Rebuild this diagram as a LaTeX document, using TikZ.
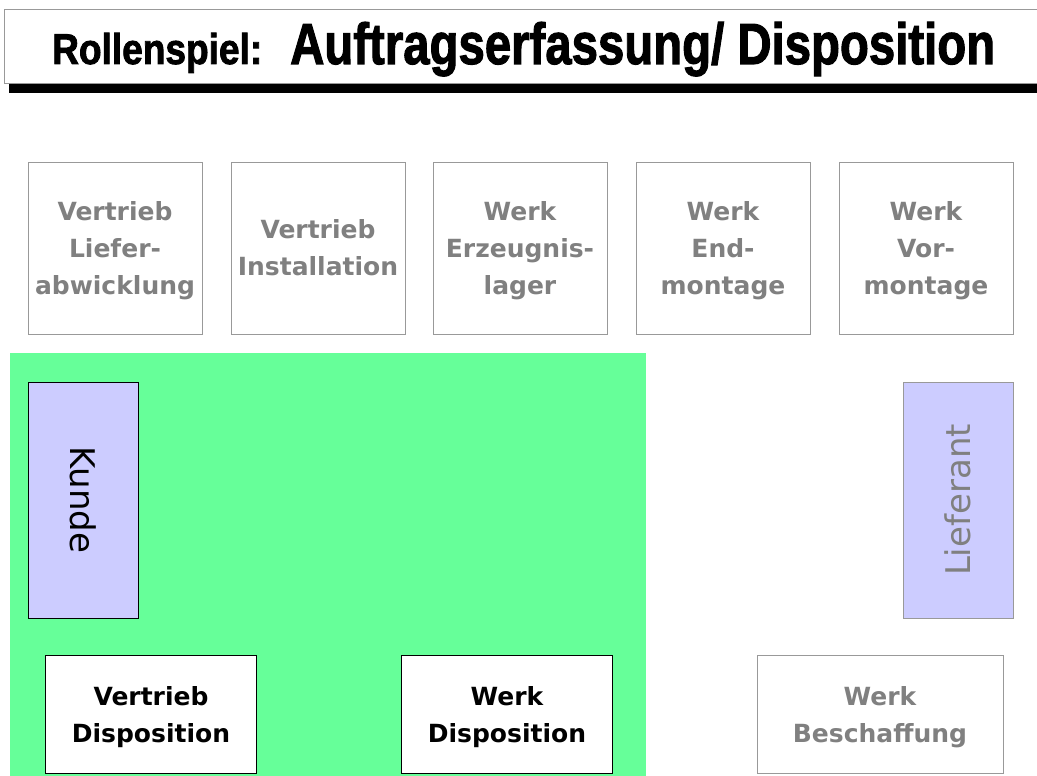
\documentclass[tikz,border=0pt]{standalone}
\usepackage{fontspec}
\setsansfont{DejaVu Sans}
\newfontfamily\titlefont[FakeBold=2]{Liberation Sans Bold}
\definecolor{boxgray}{HTML}{999999}
\definecolor{textgray}{HTML}{808080}
\definecolor{areagreen}{HTML}{66FF99}
\definecolor{rolleblau}{HTML}{CCCCFF}
\begin{document}
\begin{tikzpicture}[x=1pt, y=-1pt,
    rolle/.style={draw, line width=1pt, fill=white, align=center, inner sep=0pt,
      text depth=0pt, font=\sffamily\bfseries\fontsize{25}{37}\selectfont},
    grau/.style={rolle, draw=boxgray, text=textgray},
    oben/.style={grau, minimum width=174pt, minimum height=172pt},
    unten/.style={rolle, minimum width=211pt, minimum height=118pt},
    seite/.style={draw, line width=1pt, fill=rolleblau, inner sep=0pt,
      minimum width=236pt, minimum height=110pt,
      font=\sffamily\fontsize{34}{34}\selectfont}]

    \useasboundingbox (0,0) rectangle (1037,776);

    % === Titel ===
    \fill[black] (9,84) rectangle (1045,93);
    \draw[boxgray, fill=white, line width=1pt] (4,10) rectangle (1045,84);
    \node[anchor=base west, inner sep=0pt] (rollen) at (52,64)
        {\resizebox{210pt}{\height}{\titlefont\fontsize{43}{43}\selectfont Rollenspiel:}};
    \node[anchor=base west, inner sep=0pt] (titel) at (290,64)
        {\resizebox{705pt}{\height}{\titlefont\fontsize{58}{58}\selectfont Auftragserfassung/ Disposition}};

    % === obere Reihe ===
    \node[oben] (lieferabw) at (115,248) {Vertrieb\\Liefer-\\abwicklung};
    \node[oben] (install)   at (318,248) {Vertrieb\\Installation};
    \node[oben] (erzlager)  at (520,248) {Werk\\Erzeugnis-\\lager};
    \node[oben] (endmont)   at (723,248) {Werk\\End-\\montage};
    \node[oben] (vormont)   at (926,248) {Werk\\Vor-\\montage};

    % === gruene Flaeche ===
    \fill[areagreen] (10,353) rectangle (646,776);

    % Kunde und Lieferant
    \node[seite, rotate=-90] (kunde) at (83,500) {Kunde};
    \node[seite, rotate=90, draw=boxgray, text=textgray] (lieferant) at (958,500) {Lieferant};

    % === untere Reihe ===
    \node[unten] (vertdispo) at (151,714) {Vertrieb\\Disposition};
    \node[unten] (werkdispo) at (507,714) {Werk\\Disposition};
    \node[unten, grau, minimum width=246pt] (beschaff) at (880,714) {Werk\\Beschaffung};

\end{tikzpicture}
\end{document}
